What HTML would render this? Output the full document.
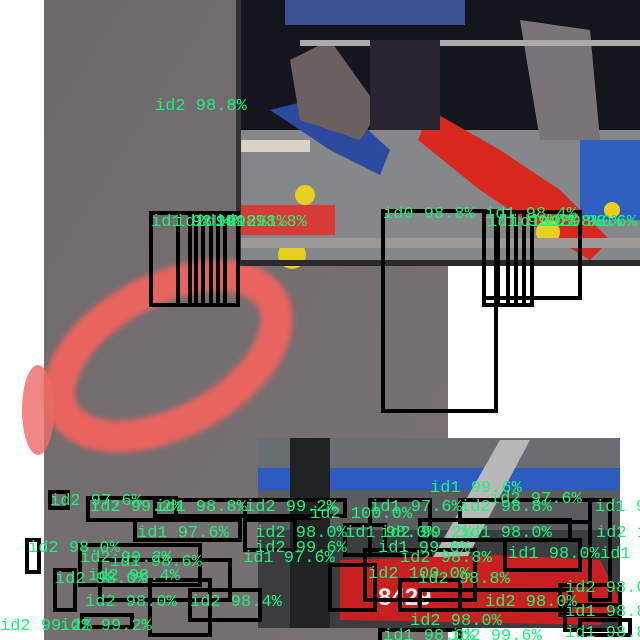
<!DOCTYPE html>
<html><head><meta charset="utf-8"><style>
html,body{margin:0;padding:0;background:#fff;width:640px;height:640px;overflow:hidden}
svg text{font-family:"Liberation Mono",monospace;font-size:17px;fill:#1ef27a}
</style></head><body>
<svg width="640" height="640" viewBox="0 0 640 640" xmlns="http://www.w3.org/2000/svg">
<defs>
<linearGradient id="gr" x1="0" y1="0" x2="1" y2="1"><stop offset="0" stop-color="#6e6a6c"/><stop offset="1" stop-color="#7a7274"/></linearGradient>
<filter id="bl"><feGaussianBlur stdDeviation="3"/></filter>
</defs>
<rect x="0" y="0" width="640" height="640" fill="#fff"/>
<rect x="44" y="0" width="404" height="640" fill="url(#gr)"/>
<rect x="448" y="266" width="192" height="172" fill="#fff"/>
<g filter="url(#bl)">
<ellipse cx="168" cy="356" rx="118" ry="66" transform="rotate(-28 168 356)" fill="none" stroke="#e9635f" stroke-width="32"/>
</g>
<ellipse cx="38" cy="410" rx="16" ry="45" fill="#ee6a66" opacity=".8"/>
<g>
<rect x="240" y="0" width="400" height="266" fill="#15151d"/>
<rect x="285" y="0" width="180" height="25" fill="#3c5290"/>
<rect x="240" y="130" width="400" height="130" fill="#85878a"/>
<rect x="240" y="140" width="70" height="12" fill="#d8d2c8"/>
<polygon points="270,110 330,95 390,150 380,175 330,150" fill="#2c4aa0"/>
<polygon points="290,60 330,40 380,110 360,140 300,120" fill="#6a6060"/>
<polygon points="430,110 500,150 560,190 610,240 590,260 540,230 480,190 418,140" fill="#d8281e"/>
<polygon points="520,20 590,30 600,140 540,140" fill="#7a7478"/>
<rect x="300" y="40" width="340" height="6" fill="#aaa"/>
<rect x="370" y="40" width="70" height="90" fill="#2a2430"/>
<rect x="580" y="140" width="60" height="80" fill="#2f5fc0"/>
<rect x="240" y="205" width="95" height="30" fill="#d83a38"/>
<circle cx="305" cy="195" r="10" fill="#e8d020"/>
<circle cx="292" cy="255" r="14" fill="#e8d020"/>
<circle cx="548" cy="232" r="12" fill="#e8d020"/>
<circle cx="612" cy="210" r="8" fill="#e8d020"/>
<rect x="240" y="238" width="400" height="10" fill="#9c9a98"/>
<rect x="240" y="260" width="400" height="6" fill="#2a2a2a"/>
<rect x="236" y="0" width="5" height="266" fill="#333"/>
</g>
<g>
<rect x="258" y="438" width="362" height="190" fill="#3a3c40"/>
<rect x="258" y="438" width="362" height="30" fill="#6a6e72"/>
<rect x="258" y="468" width="362" height="22" fill="#2c5cc0"/>
<rect x="258" y="490" width="362" height="40" fill="#5a5c60"/>
<rect x="290" y="438" width="40" height="190" fill="#202224"/>
<polygon points="420,580 500,440 530,440 450,590" fill="#b8b8b8"/>
<polygon points="340,560 500,555 600,560 620,600 600,625 340,620" fill="#c82020"/>
<text x="378" y="605" style="fill:#eee;font-size:24px;font-family:'Liberation Sans',sans-serif;font-weight:bold">8429</text>
</g>
<g fill="none" stroke="#000" stroke-width="4">
<rect x="151" y="213" width="87" height="92"/>
<line x1="178" y1="213" x2="178" y2="305"/><line x1="190" y1="213" x2="190" y2="305"/><line x1="196" y1="213" x2="196" y2="305"/><line x1="203" y1="213" x2="203" y2="305"/><line x1="211" y1="213" x2="211" y2="305"/><line x1="218" y1="213" x2="218" y2="305"/><line x1="225" y1="213" x2="225" y2="305"/>
<rect x="383" y="211" width="113" height="200"/>
<rect x="484" y="212" width="96" height="86"/>
<rect x="484" y="212" width="14" height="93"/><rect x="484" y="212" width="24" height="93"/><rect x="484" y="212" width="32" height="93"/><rect x="484" y="212" width="40" height="93"/><rect x="484" y="212" width="48" height="93"/>
<rect x="50" y="492" width="18" height="16"/><rect x="88" y="498" width="88" height="22"/><rect x="155" y="500" width="190" height="16"/><rect x="245" y="500" width="75" height="18"/>
<rect x="135" y="520" width="105" height="20"/><rect x="27" y="540" width="12" height="32"/><rect x="245" y="520" width="50" height="30"/>
<rect x="370" y="500" width="60" height="55"/><rect x="345" y="525" width="40" height="30"/><rect x="460" y="500" width="130" height="22"/><rect x="420" y="520" width="150" height="20"/>
<rect x="505" y="540" width="75" height="30"/><rect x="590" y="500" width="20" height="100"/><rect x="55" y="570" width="20" height="40"/><rect x="80" y="545" width="120" height="40"/>
<rect x="100" y="560" width="130" height="40"/><rect x="150" y="580" width="60" height="55"/><rect x="190" y="590" width="70" height="30"/><rect x="82" y="615" width="50" height="12"/>
<rect x="330" y="565" width="45" height="45"/><rect x="365" y="550" width="110" height="50"/><rect x="400" y="580" width="60" height="30"/><rect x="420" y="590" width="150" height="20"/>
<rect x="560" y="585" width="60" height="30"/><rect x="565" y="605" width="55" height="25"/><rect x="580" y="620" width="50" height="15"/><rect x="380" y="630" width="80" height="12"/>
</g>
<g>
<text x="155" y="110">id2 98.8%</text>
<text x="383" y="218">id0 98.8%</text><text x="485" y="218">id1 98.4%</text>
<text x="151" y="226">id1 98.4%</text><text x="175" y="226">id2 99.2%</text><text x="195" y="226">id1 98.1%</text><text x="215" y="226">id1 98.8%</text>
<text x="487" y="226">id1 99.2%</text><text x="510" y="226">id1 98.8%</text><text x="530" y="226">id1 98.0%</text><text x="545" y="226">id1 98.6%</text>
<text x="430" y="492">id1 99.6%</text><text x="50" y="505">id2 97.6%</text><text x="490" y="503">id2 97.6%</text>
<text x="90" y="511">id2 99.2%</text><text x="155" y="511">id1 98.8%</text><text x="245" y="511">id2 99.2%</text><text x="310" y="518">id2 100.0%</text><text x="370" y="511">id1 97.6%</text><text x="460" y="511">id2 98.8%</text><text x="595" y="511">id1 9</text>
<text x="137" y="537">id1 97.6%</text><text x="255" y="537">id2 98.0%</text><text x="345" y="537">id1 98.0%</text><text x="380" y="537">id2 99.2%</text><text x="460" y="537">id1 98.0%</text><text x="596" y="537">id2 1</text>
<text x="28" y="552">id2 98.0%</text><text x="255" y="552">id2 99.6%</text><text x="378" y="552">id1 99.6%</text><text x="508" y="558">id1 98.0%</text><text x="600" y="558">id1 9</text>
<text x="80" y="562">id2 99.2%</text><text x="243" y="562">id1 97.6%</text><text x="400" y="562">id2 98.8%</text><text x="110" y="566">id1 98.6%</text>
<text x="55" y="583">id2 98.0%</text><text x="88" y="580">id2 98.4%</text><text x="368" y="578">id2 100.0%</text><text x="418" y="583">id2 98.8%</text><text x="565" y="592">id2 98.0%</text>
<text x="85" y="606">id2 98.0%</text><text x="190" y="606">id2 98.4%</text><text x="485" y="606">id2 98.0%</text><text x="565" y="616">id1 98.8%</text>
<text x="410" y="625">id2 98.0%</text><text x="0" y="630">id2 99.2%</text><text x="60" y="630">id2 99.2%</text><text x="383" y="640">id1 98.0%</text><text x="450" y="640">id2 99.6%</text><text x="565" y="637">id1 98.8%</text>
</g>
</svg>
</body></html>
